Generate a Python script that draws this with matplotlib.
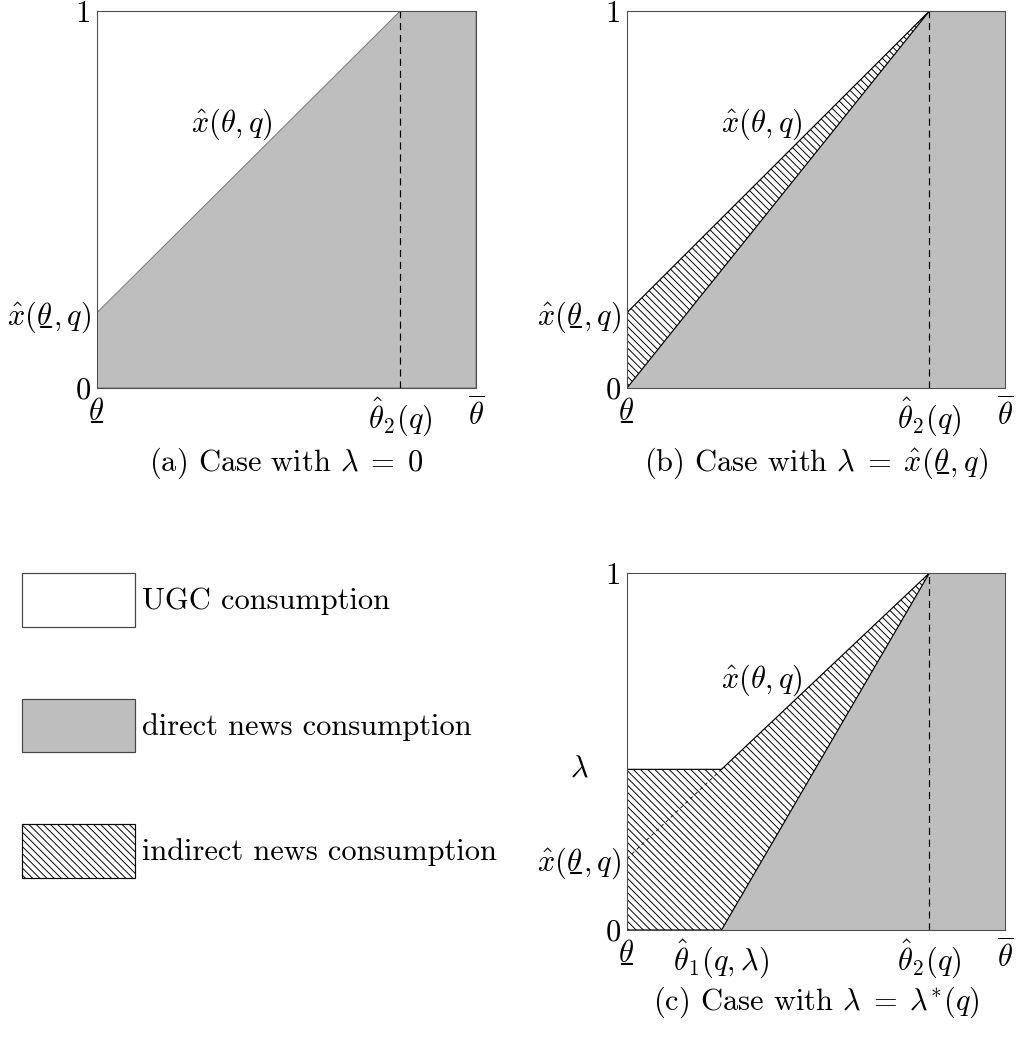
import matplotlib
matplotlib.use('Agg')
import matplotlib.pyplot as plt
from matplotlib.patches import Polygon, Patch

plt.rcParams['font.family'] = 'cmr10'
plt.rcParams['mathtext.fontset'] = 'cm'
plt.rcParams['axes.unicode_minus'] = False
plt.rcParams['hatch.linewidth'] = 0.8

W, H, DPI = 1019, 1054, 86
FS = 25.5
GREY = '#bebebe'
FRAME = '#4d4d4d'
HATCH = '\\\\\\\\'

# values (types normalised to [0, 1])
theta_lo, theta_hi = 0.0, 1.0
theta2 = 0.8        # theta_hat_2(q)
xhat_lo = 0.2       # x_hat(theta_underline, q)
lam_c = 0.45        # lambda in panel (c)
theta1_c = 0.25     # theta_hat_1(q, lambda)

# mathtext has no \underline, so put an underscore back under theta
UL = r'\theta\!\!\!\_'

captions = [r'(a) Case with $\lambda\;=\;0$',
            r'(b) Case with $\lambda\;=\;\hat{x}(' + UL + r',q)$',
            r'(c) Case with $\lambda\;=\;\lambda^{*}(q)$']
legend_labels = ['UGC consumption', 'direct news consumption',
                 'indirect news consumption']

XLOW = '$' + UL + '$'
XHAT_LO = r'$\hat{x}(' + UL + r',q)$'
XHAT = r'$\hat{x}(\theta,q)$'
TH2 = r'$\hat{\theta}_2(q)$'
TH1 = r'$\hat{\theta}_1(q,\lambda)$'
THBAR = r'$\overline{\theta}$'


def xhat(t):
    return xhat_lo + (1 - xhat_lo) / theta2 * t


def px_axes(fig, l, t, r, b):
    return fig.add_axes([l / W, 1 - b / H, (r - l) / W, (b - t) / H])


def setup(ax, xt, xl, yt, yl, caption, cap_off):
    ax.set_xlim(theta_lo, theta_hi)
    ax.set_ylim(0, 1)
    ax.set_xticks(xt, xl)
    ax.set_yticks(yt, yl)
    ax.tick_params(length=0, labelsize=FS, pad=5)
    ax.tick_params(axis='x', pad=7)
    for s in ax.spines.values():
        s.set_color(FRAME)
        s.set_linewidth(0.9)
        s.set_zorder(5)
    ax.axvline(theta2, color='black', lw=1.0, dashes=(6, 4), zorder=4)
    ax.text(0.356, 0.70, XHAT, fontsize=FS, ha='center', va='center', zorder=6)
    ax.annotate(caption, xy=(0.5, 0), xycoords='axes fraction',
                xytext=(0, -cap_off), textcoords='offset pixels',
                ha='center', va='center', fontsize=FS)


fig = plt.figure(figsize=(W / DPI, H / DPI), dpi=DPI)

# (a) lambda = 0
ax = px_axes(fig, 97, 11, 476, 388)
ax.add_patch(Polygon([(theta_lo, 0), (theta_lo, xhat(theta_lo)), (theta2, 1),
                      (theta_hi, 1), (theta_hi, 0)],
                     facecolor=GREY, edgecolor='#777777', lw=0.8, zorder=1))
setup(ax, [theta_lo, theta2, theta_hi], [XLOW, TH2, THBAR],
      [0, xhat_lo, 1], ['0', XHAT_LO, '1'], captions[0], 75)

# (b) lambda = x_hat(theta_underline, q)
ax = px_axes(fig, 627, 11, 1005, 388)
ax.add_patch(Polygon([(theta_lo, 0), (theta2, 1), (theta_hi, 1), (theta_hi, 0)],
                     facecolor=GREY, edgecolor='none', zorder=1))
ax.add_patch(Polygon([(theta_lo, 0), (theta_lo, xhat(theta_lo)), (theta2, 1)],
                     facecolor='white', edgecolor='black', hatch=HATCH,
                     lw=1.0, zorder=2))
setup(ax, [theta_lo, theta2, theta_hi], [XLOW, TH2, THBAR],
      [0, xhat_lo, 1], ['0', XHAT_LO, '1'], captions[1], 75)

# (c) lambda = lambda*(q)
ax = px_axes(fig, 627, 573, 1005, 930)
kink = (lam_c - xhat_lo) * theta2 / (1 - xhat_lo)
ax.add_patch(Polygon([(theta1_c, 0), (theta2, 1), (theta_hi, 1), (theta_hi, 0)],
                     facecolor=GREY, edgecolor='none', zorder=1))
ax.add_patch(Polygon([(theta_lo, 0), (theta_lo, lam_c), (kink, lam_c),
                      (theta2, 1), (theta1_c, 0)],
                     facecolor='white', edgecolor='black', hatch=HATCH,
                     lw=1.0, zorder=2))
ax.plot([theta_lo, kink], [xhat(theta_lo), lam_c], color='black', lw=0.7,
        dashes=(4, 4), zorder=3)
setup(ax, [theta_lo, theta1_c, theta2, theta_hi], [XLOW, TH1, TH2, THBAR],
      [0, xhat_lo, 1], ['0', XHAT_LO, '1'], captions[2], 72)
ax.annotate(r'$\lambda$', xy=(0, lam_c), xycoords=('axes fraction', 'data'),
            xytext=(-38, 0), textcoords='offset pixels', ha='right',
            va='center', fontsize=FS)

# legend
fs_px = FS * DPI / 72
handles = [Patch(facecolor='white', edgecolor='#444444', lw=1.0),
           Patch(facecolor=GREY, edgecolor='#444444', lw=1.0),
           Patch(facecolor='white', edgecolor='black', hatch=HATCH, lw=1.0)]
fig.legend(handles, legend_labels, loc='upper left',
           bbox_to_anchor=(22 / W, 1 - 573 / H), frameon=False, fontsize=FS,
           handlelength=113 / fs_px, handleheight=71 / fs_px,
           labelspacing=72 / fs_px, handletextpad=7 / fs_px,
           borderpad=0, borderaxespad=0)

fig.savefig('out.png', dpi=DPI)
